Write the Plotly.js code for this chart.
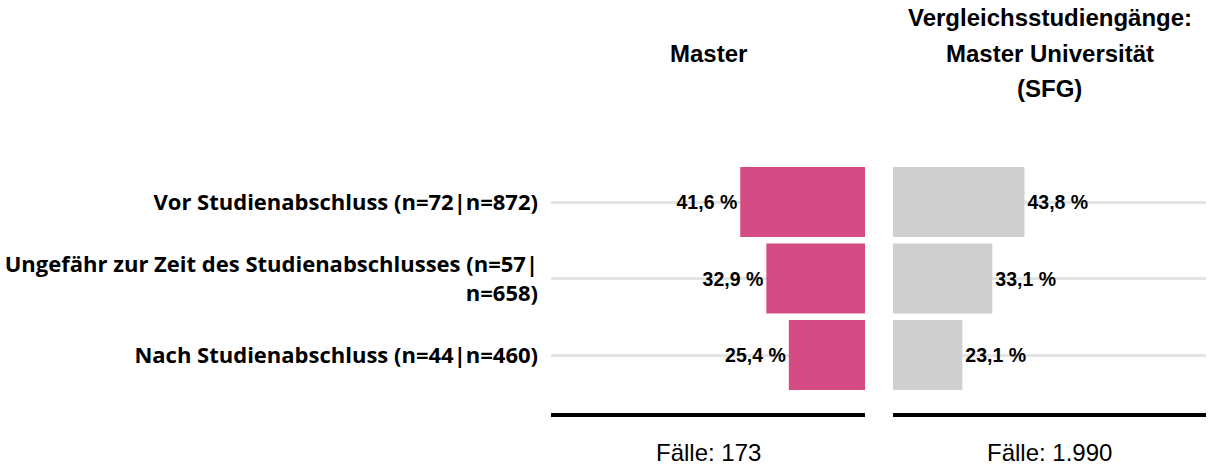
<!DOCTYPE html>
<html>
<head>
<meta charset="utf-8">
<script src="https://cdn.plot.ly/plotly-3.0.1.min.js"></script>
<style>html,body{margin:0;padding:0;background:#fff;}#chart{width:1214px;height:468px;}</style>
</head>
<body>
<div id="chart"></div>
<script>
var categories = [
  "Vor Studienabschluss (n=72|n=872)",
  "Ungefähr zur Zeit des Studienabschlusses (n=57|<br>n=658)",
  "Nach Studienabschluss (n=44|n=460)"
];
var masterValues = [41.6, 32.9, 25.4];
var vergleichValues = [43.8, 33.1, 23.1];
var leftTitleLines = ["Master"];
var rightTitleLines = ["Vergleichsstudiengänge:", "Master Universität", "(SFG)"];
var caseLabels = ["Fälle: 173", "Fälle: 1.990"];

var W = 1214, H = 468;
var barFont = {family: "Liberation Sans, Arial, sans-serif", size: 19.5, color: "#000", weight: "bold"};
var titleFont = {family: "Liberation Sans, Arial, sans-serif", size: 24, color: "#000", weight: "bold"};
var caseFont = {family: "Liberation Sans, Arial, sans-serif", size: 24, color: "#000"};

var traces = [
  {
    type: "bar", orientation: "h",
    x: masterValues, y: categories,
    xaxis: "x", yaxis: "y",
    marker: {color: "#D54C84"},
    texttemplate: "%{x:.1f} %", textposition: "outside",
    textfont: barFont, cliponaxis: false,
    hoverinfo: "skip"
  },
  {
    type: "bar", orientation: "h",
    x: vergleichValues, y: categories,
    xaxis: "x2", yaxis: "y",
    marker: {color: "#CFCFCF"},
    texttemplate: "%{x:.1f} %", textposition: "outside",
    textfont: barFont, cliponaxis: false,
    hoverinfo: "skip"
  }
];

var annotations = [];
var lineY = [18, 53, 88];
leftTitleLines.forEach(function (t) {
  annotations.push({xref: "x domain", yref: "paper", x: 0.5, y: (H - 53) / H, text: t,
    showarrow: false, xanchor: "center", yanchor: "middle", font: titleFont});
});
rightTitleLines.forEach(function (t, i) {
  annotations.push({xref: "x2 domain", yref: "paper", x: 0.5, y: (H - lineY[i]) / H, text: t,
    showarrow: false, xanchor: "center", yanchor: "middle", font: titleFont});
});
annotations.push({xref: "x domain", yref: "paper", x: 0.5, y: (H - 452) / H, text: caseLabels[0],
  showarrow: false, xanchor: "center", yanchor: "middle", font: caseFont});
annotations.push({xref: "x2 domain", yref: "paper", x: 0.5, y: (H - 452) / H, text: caseLabels[1],
  showarrow: false, xanchor: "center", yanchor: "middle", font: caseFont});

var yTop = 163.75, yBot = 413;
var layout = {
  width: W, height: H,
  margin: {l: 0, r: 0, t: 0, b: 0},
  paper_bgcolor: "#fff", plot_bgcolor: "rgba(0,0,0,0)",
  separators: ",.",
  showlegend: false,
  bargap: 0.085,
  xaxis: {
    domain: [551 / W, 865 / W],
    range: [104.7, 0],
    showgrid: false, zeroline: false, showticklabels: false, ticks: "",
    showline: true, linecolor: "#000", linewidth: 4,
    anchor: "y", fixedrange: true
  },
  xaxis2: {
    domain: [893 / W, 1206 / W],
    range: [0, 104.3],
    showgrid: false, zeroline: false, showticklabels: false, ticks: "",
    showline: true, linecolor: "#000", linewidth: 4,
    anchor: "y", fixedrange: true
  },
  yaxis: {
    domain: [(H - yBot) / H, (H - yTop) / H],
    range: [2.758, -0.5],
    type: "category",
    showgrid: true, gridcolor: "rgba(195,195,195,0.45)", gridwidth: 3,
    layer: "above traces",
    zeroline: false, showline: false, ticks: "",
    ticklabelstandoff: 12,
    automargin: false,
    tickfont: {family: "Open Sans, sans-serif", size: 22, color: "#000", weight: "bold"},
    fixedrange: true
  },
  annotations: annotations
};

Plotly.newPlot("chart", traces, layout, {displayModeBar: false, staticPlot: true});
</script>
</body>
</html>
